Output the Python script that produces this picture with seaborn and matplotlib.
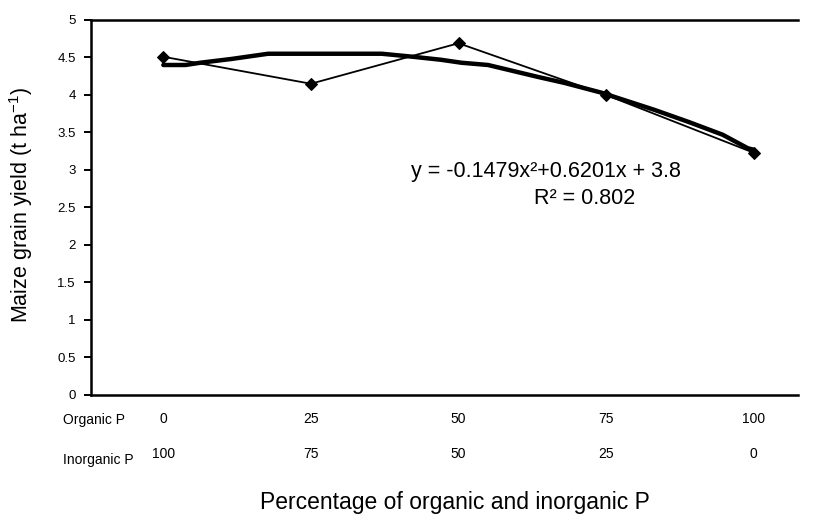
import matplotlib
matplotlib.use("Agg")
import matplotlib.pyplot as plt
import matplotlib.transforms as mtransforms
import pandas as pd
import seaborn as sns


# Data
positions = [1, 2, 3, 4, 5]
organic_p = ["0", "25", "50", "75", "100"]
inorganic_p = ["100", "75", "50", "25", "0"]
grain_yield = [4.51, 4.15, 4.69, 4.00, 3.23]

# Trend line (polynomial fit) as drawn in the reference
trend_x = [1.00, 1.15, 1.25, 1.46, 1.71, 2.48, 2.69, 2.88, 3.02, 3.20,
           3.54, 3.72, 3.97, 4.33, 4.56, 4.79, 4.96, 5.00]
trend_y = [4.40, 4.40, 4.43, 4.48, 4.55, 4.55, 4.51, 4.47, 4.43, 4.40,
           4.24, 4.16, 4.03, 3.80, 3.64, 3.47, 3.29, 3.27]

obs = pd.DataFrame({"x": positions, "y": grain_yield})
trend = pd.DataFrame({"x": trend_x, "y": trend_y})


sns.set_style("white")
plt.rcParams["font.family"] = ["Liberation Sans", "DejaVu Sans"]
plt.rcParams["mathtext.fontset"] = "custom"
plt.rcParams["mathtext.rm"] = "Liberation Sans"
plt.rcParams["text.color"] = "black"
plt.rcParams["ytick.color"] = "black"
plt.rcParams["ytick.labelcolor"] = "black"

fig = plt.figure(figsize=(8.14, 5.22), dpi=100)
ax = fig.add_axes([0.1118, 0.2433, 0.8685, 0.7184])

sns.lineplot(
    data=trend, x="x", y="y", sort=False,
    color="black", linewidth=3.2, ax=ax
)

sns.lineplot(
    data=obs, x="x", y="y", sort=False,
    color="black", linewidth=1.3,
    marker="D", markersize=6, markeredgecolor="black", ax=ax
)

ax.set_xlim(0.51, 5.30)
ax.set_ylim(0, 5)
ax.set_yticks([0, 0.5, 1, 1.5, 2, 2.5, 3, 3.5, 4, 4.5, 5])
ax.set_yticklabels(["0", "0.5", "1", "1.5", "2", "2.5", "3", "3.5", "4", "4.5", "5"],
                   fontsize=9.5, color="black")
ax.set_xticks([])
ax.tick_params(axis="y", direction="out", length=5, width=1.4, left=True, pad=6,
               color="black")

for side in ["left", "bottom", "top"]:
    ax.spines[side].set_visible(True)
    ax.spines[side].set_color("black")
    ax.spines[side].set_linewidth(1.8)
ax.spines["right"].set_visible(False)

ax.set_xlabel("")
ax.set_ylabel("")
fig.text(21 / 814, 1 - 205 / 522, "Maize grain yield (t ha$^{\\mathregular{-1}}$)",
         rotation=90, ha="center", va="center", fontsize=15.5, color="black")

# two-row category labels under the axis
trans = mtransforms.blended_transform_factory(ax.transData, ax.transAxes)
for xp, o, i in zip(positions, organic_p, inorganic_p):
    ax.text(xp, (395 - 419) / 375, o, transform=trans, ha="center", va="center",
            fontsize=10, color="black")
    ax.text(xp, (395 - 454) / 375, i, transform=trans, ha="center", va="center",
            fontsize=10, color="black")

fig.text(63 / 814, 1 - 420 / 522, "Organic P", ha="left", va="center",
         fontsize=10, color="black")
fig.text(63 / 814, 1 - 460 / 522, "Inorganic P", ha="left", va="center",
         fontsize=10, color="black")

fig.text(455 / 814, 1 - 503 / 522, "Percentage of organic and inorganic P",
         ha="center", va="center", fontsize=16.5, color="black")

# trend line equation
fig.text(546 / 814, 1 - 172 / 522, "y = -0.1479x²+0.6201x + 3.8",
         ha="center", va="center", fontsize=15.5, color="black")
fig.text(585 / 814, 1 - 199 / 522, "R² = 0.802",
         ha="center", va="center", fontsize=15.5, color="black")

fig.savefig("out.png", dpi=100)
plt.close(fig)
